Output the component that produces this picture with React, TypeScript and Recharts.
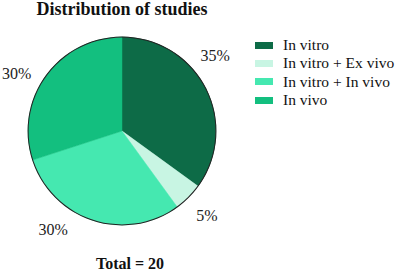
import { Cell, Legend, Pie, PieChart } from "recharts";

const categories = ["In vitro", "In vitro + Ex vivo", "In vitro + In vivo", "In vivo"];
const studyCounts = [7, 1, 6, 6];
const percentLabels = ["35%", "5%", "30%", "30%"];
const colors = ["#0d6b47", "#c8f5e3", "#45e8b0", "#13bf7f"];

// small angle nudges so the labels sit where the original put them
const labelNudge = [12, 0, -17, 7.5];

const RAD = Math.PI / 180;
const serif = "'Liberation Serif', 'Times New Roman', serif";

const data = categories.map((name, i) => ({ name, value: studyCounts[i] }));

function renderLabel(props: any) {
  const { cx, cy, midAngle, index } = props;
  const angle = (midAngle + labelNudge[index]) * RAD;
  const r = 120;
  const x = cx + r * Math.cos(-angle);
  const y = cy + r * Math.sin(-angle);
  return (
    <text
      x={x}
      y={y}
      textAnchor="middle"
      dominantBaseline="central"
      fontFamily={serif}
      fontSize={16}
      fill="#222"
    >
      {percentLabels[index]}
    </text>
  );
}

function LegendContent(props: any) {
  const items = (props.payload || []).filter((e: any) => categories.includes(e.value));
  return (
    <div style={{ fontFamily: serif, fontSize: 15.5, color: "#111" }}>
      {items.map((entry: any, i: number) => (
        <div
          key={i}
          style={{ display: "flex", alignItems: "center", height: 18.3, lineHeight: "18px" }}
        >
          <span
            style={{
              display: "inline-block",
              width: 18,
              height: 7,
              background: entry.color,
              marginRight: 10,
            }}
          />
          <span style={{ whiteSpace: "nowrap" }}>{entry.value}</span>
        </div>
      ))}
    </div>
  );
}

export default function App() {
  return (
    <div style={{ position: "relative", width: 403, height: 271, background: "#fff" }}>
      <style>{`body { margin: 0; }`}</style>
      <PieChart width={403} height={271} margin={{ top: 0, right: 0, bottom: 0, left: 0 }}>
        <Pie
          data={data}
          dataKey="value"
          nameKey="name"
          cx={122}
          cy={131}
          outerRadius={94}
          startAngle={90}
          endAngle={-270}
          label={renderLabel}
          labelLine={false}
          isAnimationActive={false}
        >
          {data.map((d, i) => (
            <Cell key={d.name} fill={colors[i]} stroke={colors[i]} strokeWidth={0.5} />
          ))}
        </Pie>
        <Pie
          data={[{ name: "outline", value: 1 }]}
          dataKey="value"
          cx={122}
          cy={131}
          innerRadius={93.4}
          outerRadius={94.4}
          startAngle={90}
          endAngle={-270}
          fill="#222"
          stroke="none"
          legendType="none"
          isAnimationActive={false}
        />
        <Legend
          layout="vertical"
          align="right"
          verticalAlign="top"
          content={<LegendContent />}
          wrapperStyle={{ left: 255, top: 36, width: 150 }}
        />
      </PieChart>
      <div
        style={{
          position: "absolute",
          top: 0,
          left: 0,
          width: 244,
          textAlign: "center",
          fontFamily: serif,
          fontWeight: "bold",
          fontSize: 18,
          lineHeight: "18px",
          color: "#111",
        }}
      >
        Distribution of studies
      </div>
      <div
        style={{
          position: "absolute",
          top: 256,
          left: 60,
          width: 140,
          textAlign: "center",
          fontFamily: serif,
          fontWeight: "bold",
          fontSize: 16,
          lineHeight: "16px",
          color: "#111",
        }}
      >
        Total = 20
      </div>
    </div>
  );
}
